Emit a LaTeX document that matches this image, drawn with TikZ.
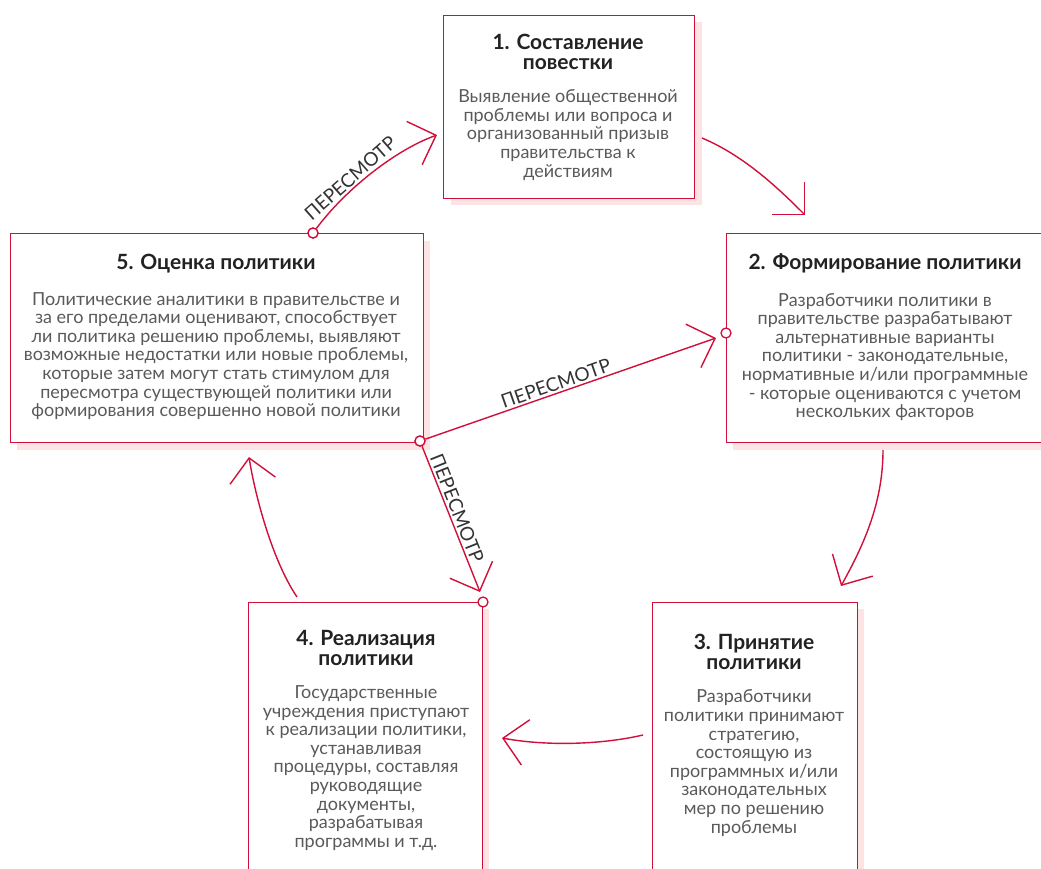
\documentclass[tikz,border=0pt]{standalone}
\usepackage{fontspec}
\setmainfont{Lato}
\usetikzlibrary{arrows.meta}
\definecolor{crim}{RGB}{208,16,58}
\definecolor{shade}{RGB}{253,227,227}
\definecolor{bodytxt}{RGB}{90,90,90}
\definecolor{titletxt}{RGB}{34,34,34}
\definecolor{labtxt}{RGB}{51,51,51}
\tikzset{
  box/.style={draw=crim, line width=1.4pt, fill=white, rectangle, anchor=north west, inner sep=0pt},
  shadowbox/.style={fill=shade, rectangle, anchor=north west, inner sep=0pt, draw=none},
  ttl/.style={text=titletxt, align=center, font=\fontsize{21}{19.5}\selectfont\bfseries, inner sep=0pt},
  bdy/.style={text=bodytxt, align=center, font=\fontsize{18}{18.6}\selectfont, inner sep=0pt},
  dot/.style={circle, draw=crim, line width=1.3pt, fill=white, minimum size=10pt, inner sep=0pt},
  arr/.style={draw=crim, line width=1.4pt, -{Straight Barb[length=23pt, width=46pt, line width=1.4pt]}},
  lab/.style={text=labtxt, font=\fontsize{19}{19}\selectfont, inner sep=2pt},
}
\begin{document}
\begin{tikzpicture}[x=1pt,y=-1pt]
\clip (0,0) rectangle (1041,868);
\fill[white] (0,0) rectangle (1041,868);
% shadows
\node[shadowbox, minimum width=251pt, minimum height=183pt] (s1) at (451,22) {};
\node[shadowbox, minimum width=413pt, minimum height=209pt] (s5) at (17,241) {};
\node[shadowbox, minimum width=340pt, minimum height=209pt] (s2) at (733,241) {};
\node[shadowbox, minimum width=205pt, minimum height=300pt] (s3) at (659,609) {};
\node[shadowbox, minimum width=234pt, minimum height=300pt] (s4) at (255,609) {};
% boxes
\node[box, minimum width=251pt, minimum height=183pt] (b1) at (443,15) {};
\node[box, minimum width=413pt, minimum height=209pt] (b5) at (10,233) {};
\node[box, minimum width=340pt, minimum height=209pt] (b2) at (726,233) {};
\node[box, minimum width=205pt, minimum height=300pt] (b3) at (652,602) {};
\node[box, minimum width=234pt, minimum height=300pt] (b4) at (248,602) {};
% texts
\node[ttl] (t1) at (568,52) {1. Составление\\повестки};
\node[bdy] (d1) at (568,135) {Выявление общественной\\проблемы или вопроса и\\организованный призыв\\правительства к\\действиям};
\node[ttl] (t5) at (216,264) {5. Оценка политики};
\node[bdy] (d5) at (216,356) {Политические аналитики в правительстве и\\за его пределами оценивают, способствует\\ли политика решению проблемы, выявляют\\возможные недостатки или новые проблемы,\\которые затем могут стать стимулом для\\пересмотра существующей политики или\\формирования совершенно новой политики};
\node[ttl] (t2) at (885,263) {2. Формирование политики};
\node[bdy] (d2) at (885,357) {Разработчики политики в\\правительстве разрабатывают\\альтернативные варианты\\политики - законодательные,\\нормативные и/или программные\\- которые оцениваются с учетом\\нескольких факторов};
\node[ttl] (t3) at (754,652) {3. Принятие\\политики};
\node[bdy] (d3) at (754,763) {Разработчики\\политики принимают\\стратегию,\\состоящую из\\программных и/или\\законодательных\\мер по решению\\проблемы};
\node[ttl] (t4) at (366,648) {4. Реализация\\политики};
\node[bdy] (d4) at (366,768) {Государственные\\учреждения приступают\\к реализации политики,\\устанавливая\\процедуры, составляя\\руководящие\\документы,\\разрабатывая\\программы и т.д.};
% circles
\node[dot] (c1) at (313,233) {};
\node[dot] (c2) at (420,441) {};
\node[dot] (c3) at (726,333) {};
\node[dot] (c4) at (483,602) {};
% connector ends
\coordinate (a12s) at (702,138);
\coordinate (a12e) at (805,215);
\coordinate (a23s) at (883,450);
\coordinate (a23e) at (841,586);
\coordinate (a34s) at (643,735);
\coordinate (a34e) at (502,738);
\coordinate (a45s) at (297,597);
\coordinate (a45e) at (249,457);
\coordinate (r1e) at (437,135);
\coordinate (r2e) at (716,338);
\coordinate (r3e) at (480,592);
% cycle arrows
\draw[arr] (a12s) .. controls (745,156) and (780,190) .. (a12e);
\draw[arr] (a23s) .. controls (883,505) and (862,548) .. (a23e);
\draw[arr] (a34s) .. controls (600,745) and (545,746) .. (a34e);
\draw[arr] (a45s) .. controls (272,560) and (255,495) .. (a45e);
% revision arrows
\draw[arr] (c1) .. controls (345,190) and (395,150) .. (r1e) node[lab, pos=0.38, sloped, above] {ПЕРЕСМОТР};
\draw[arr] (c2) -- (r2e) node[lab, pos=0.46, sloped, above] {ПЕРЕСМОТР};
\draw[arr] (c2) -- (r3e) node[lab, pos=0.45, sloped, above] {ПЕРЕСМОТР};
\node[dot] at (c1) {};
\node[dot] at (c2) {};
\end{tikzpicture}
\end{document}
